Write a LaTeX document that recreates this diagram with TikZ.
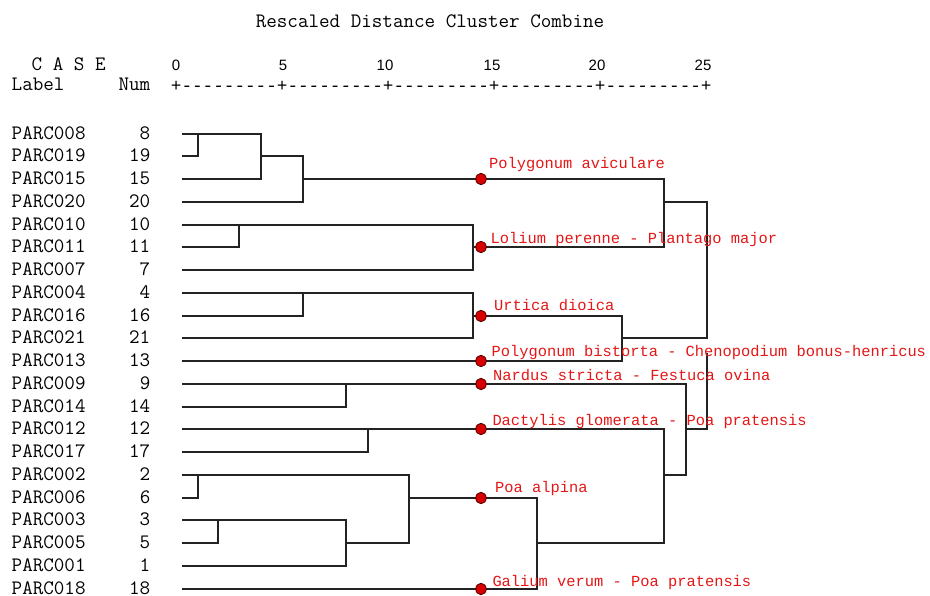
\documentclass[tikz,border=0pt]{standalone}
\usepackage{fontspec}
\usetikzlibrary{shapes.geometric}
\newfontfamily\redmono{Liberation Mono}
\newfontfamily\dashmono{Liberation Mono}
\newfontfamily\axsans{Liberation Sans}
\definecolor{linec}{RGB}{35,35,35}
\definecolor{labred}{RGB}{228,22,22}
\definecolor{dotred}{RGB}{215,0,0}
\definecolor{dotedge}{RGB}{80,0,0}
\newcommand\blkfont{\ttfamily\fontsize{20.5}{24}\selectfont}
\newcommand\redfont{\redmono\fontsize{15.4}{18}\selectfont}
\begin{document}
\begin{tikzpicture}[x=1pt,y=-1pt,
  declare function={ry(\i)=round(133.5+22.75*\i);},
  link/.style={draw=linec,line width=1.8pt,line join=miter},
  blk/.style={font=\blkfont,inner sep=0pt,text=black},
  redlab/.style={font=\redfont,text=labred,anchor=base west,inner sep=0pt},
  axnum/.style={font=\axsans\fontsize{15}{18}\selectfont,anchor=base,inner sep=0pt},
  cdot/.style={ellipse,minimum width=10.5pt,minimum height=11.5pt,inner sep=0pt,
    fill=dotred,draw=dotedge,line width=0.8pt}]
\useasboundingbox (0,0) rectangle (930,596);

% header
\node[blk,anchor=base] (title) at (430,27.5) {Rescaled Distance Cluster Combine};
\node[blk,anchor=base west] (case) at (31.5,70.5) {C A S E};
\node[blk,anchor=base west] (labhead) at (11.5,91) {Label};
\node[blk,anchor=base east] (numhead) at (150.5,91) {Num};
\foreach \v/\xx in {0/176,5/283,10/385,15/492,20/597,25/703}
  \node[axnum] (ax\v) at (\xx,70.5) {\v};
\node[font=\dashmono\fontsize{17.67}{20}\selectfont,anchor=base west,inner sep=0pt] (axis)
  at (170.7,91.5) {+---------+---------+---------+---------+---------+};

% leaf labels
\foreach \lab/\num [count=\i from 0] in {PARC008/8,PARC019/19,PARC015/15,PARC020/20,
  PARC010/10,PARC011/11,PARC007/7,PARC004/4,PARC016/16,PARC021/21,PARC013/13,
  PARC009/9,PARC014/14,PARC012/12,PARC017/17,PARC002/2,PARC006/6,PARC003/3,
  PARC005/5,PARC001/1,PARC018/18}{
  \node[blk,anchor=base west] (lab\i) at (11.5,{ry(\i)+5.2}) {\lab};
  \node[blk,anchor=base east] (num\i) at (150.5,{ry(\i)+5.2}) {\num};
  \coordinate (L\i) at (182,{ry(\i)});
}

% dots (positions)
\coordinate (D1) at (481,{ry(2)});
\coordinate (D2) at (481,{ry(5)});
\coordinate (D3) at (481,{ry(8)});
\coordinate (D4) at (481,{ry(10)});
\coordinate (D5) at (481,{ry(11)});
\coordinate (D6) at (481,{ry(13)});
\coordinate (D7) at (481,{ry(16)});
\coordinate (D8) at (481,{ry(20)});

% upper clusters
\draw[link] (L0) -- (198,{ry(0)}) -- (198,{ry(1)}) -- (L1);
\draw[link] (198,{ry(0)}) -- (261,{ry(0)}) -- (261,{ry(2)}) -- (L2);
\draw[link] (261,{ry(1)}) -- (303,{ry(1)}) -- (303,{ry(3)}) -- (L3);
\draw[link] (303,{ry(2)}) -- (D1);
\draw[link] (L4) -- (239,{ry(4)}) -- (239,{ry(5)}) -- (L5);
\draw[link] (239,{ry(4)}) -- (473,{ry(4)}) -- (473,{ry(6)}) -- (L6);
\draw[link] (473,{ry(5)}) -- (D2);
\draw[link] (D1) -- (664,{ry(2)}) -- (664,{ry(5)}) -- (D2);
\draw[link] (L7) -- (303,{ry(7)}) -- (303,{ry(8)}) -- (L8);
\draw[link] (303,{ry(7)}) -- (473,{ry(7)}) -- (473,{ry(9)}) -- (L9);
\draw[link] (473,{ry(8)}) -- (D3);
\draw[link] (L10) -- (D4);
\draw[link] (D3) -- (622,{ry(8)}) -- (622,{ry(10)}) -- (D4);
\draw[link] (664,{ry(3)}) -- (707,{ry(3)}) -- (707,{ry(9)}) -- (622,{ry(9)});

% lower clusters
\draw[link] (L11) -- (346,{ry(11)}) -- (346,{ry(12)}) -- (L12);
\draw[link] (346,{ry(11)}) -- (D5);
\draw[link] (L13) -- (368,{ry(13)}) -- (368,{ry(14)}) -- (L14);
\draw[link] (368,{ry(13)}) -- (D6);
\draw[link] (L15) -- (198,{ry(15)}) -- (198,{ry(16)}) -- (L16);
\draw[link] (L17) -- (218,{ry(17)}) -- (218,{ry(18)}) -- (L18);
\draw[link] (218,{ry(17)}) -- (346,{ry(17)}) -- (346,{ry(19)}) -- (L19);
\draw[link] (198,{ry(15)}) -- (409,{ry(15)}) -- (409,{ry(18)}) -- (346,{ry(18)});
\draw[link] (409,{ry(16)}) -- (D7);
\draw[link] (L20) -- (D8);
\draw[link] (D7) -- (537,{ry(16)}) -- (537,{ry(20)}) -- (D8);
\draw[link] (D6) -- (664,{ry(13)}) -- (664,{ry(18)}) -- (537,{ry(18)});
\draw[link] (D5) -- (686,{ry(11)}) -- (686,{ry(15)}) -- (664,{ry(15)});
\coordinate (top2) at (707,353);
\draw[link] (686,{ry(13)}) -- (707,{ry(13)}) -- (top2);

% dot nodes
\foreach \d in {1,...,8} \node[cdot] (dot\d) at (D\d) {};

% red labels
\node[redlab] (r1) at (489,169) {Polygonum aviculare};
\node[redlab] (r2) at (490.5,244) {Lolium perenne - Plantago major};
\node[redlab] (r3) at (494,310.5) {Urtica dioica};
\node[redlab] (r4) at (491.5,356.5) {Polygonum bistorta - Chenopodium bonus-henricus};
\node[redlab] (r5) at (493,380.5) {Nardus stricta - Festuca ovina};
\node[redlab] (r6) at (492.3,425) {Dactylis glomerata - Poa pratensis};
\node[redlab] (r7) at (495,492.5) {Poa alpina};
\node[redlab] (r8) at (492.3,586) {Galium verum - Poa pratensis};
\end{tikzpicture}
\end{document}
